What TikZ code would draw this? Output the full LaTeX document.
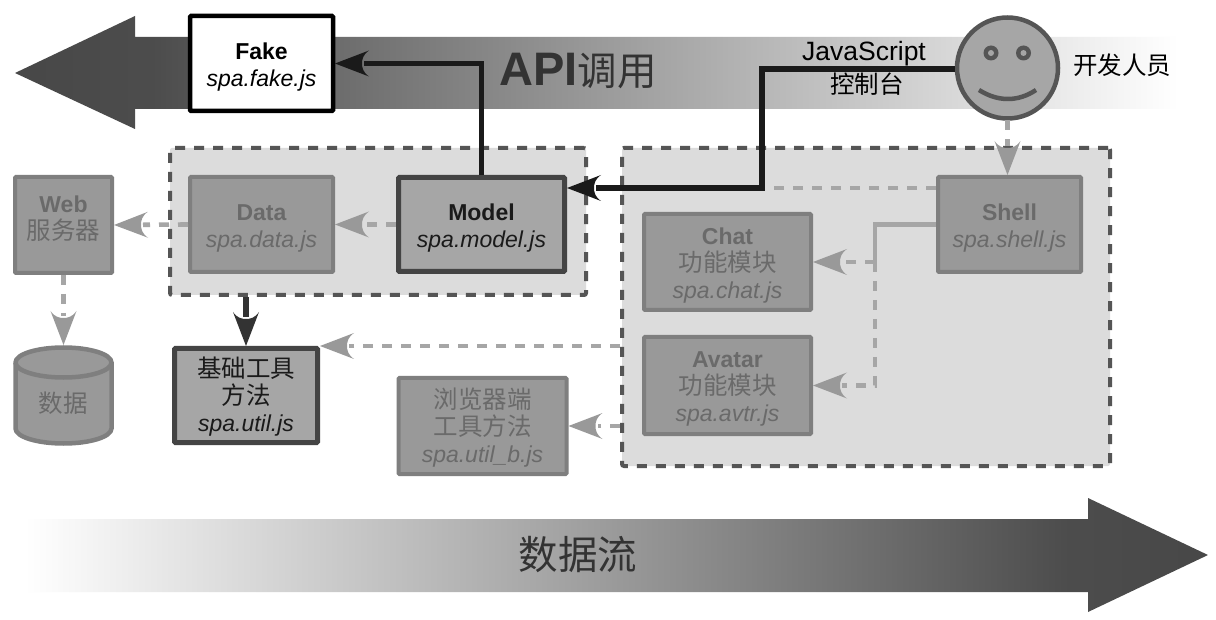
\documentclass[tikz,border=0pt]{standalone}
\usepackage{fontspec}
\setmainfont{Liberation Sans}
\newfontfamily\cjk{Noto Sans CJK SC}
\usetikzlibrary{arrows.meta,shapes.geometric}
\AtBeginDocument{\lineskiplimit=-100pt\relax}
\newcommand\cj[1]{{\cjk\fontsize{24.5}{27}\selectfont #1}}
\newcommand\topgap{\rule{0pt}{23.5pt}}
\newcommand\lowgap{\rule[-14pt]{0pt}{14pt}}
\definecolor{boxline}{HTML}{7F7F7F}
\definecolor{boxfill}{HTML}{999999}
\definecolor{boxtext}{HTML}{6A6A6A}
\definecolor{hotline}{HTML}{444444}
\definecolor{hotfill}{HTML}{A6A6A6}
\definecolor{grpline}{HTML}{555555}
\definecolor{grpfill}{HTML}{DCDCDC}
\definecolor{dashgray}{HTML}{A6A6A6}
\definecolor{tipgray}{HTML}{999999}
\definecolor{inkblack}{HTML}{1A1A1A}
\pgfdeclarehorizontalshading{apifade}{100bp}{color(0bp)=(black!72);color(25bp)=(black!72);color(31bp)=(black!70);color(75bp)=(white);color(100bp)=(white)}
\pgfdeclarehorizontalshading{flowfade}{100bp}{color(0bp)=(white);color(25bp)=(white);color(69bp)=(black!70);color(75bp)=(black!72);color(100bp)=(black!72)}
\pgfdeclarearrow{
  name=Dart,
  setup code={
    \pgfarrowssettipend{0pt}
    \pgfarrowssetlineend{-29pt}
    \pgfarrowssetvisualbackend{-27pt}
    \pgfarrowssetbackend{-34pt}
    \pgfarrowshullpoint{0pt}{0pt}
    \pgfarrowshullpoint{-34pt}{13pt}
    \pgfarrowshullpoint{-34pt}{-13pt}
  },
  drawing code={
    \pgfpathmoveto{\pgfqpoint{0pt}{0pt}}
    \pgfpathlineto{\pgfqpoint{-34pt}{13pt}}
    \pgfpathcurveto{\pgfqpoint{-28pt}{9pt}}{\pgfqpoint{-27pt}{4pt}}{\pgfqpoint{-27pt}{0pt}}
    \pgfpathcurveto{\pgfqpoint{-27pt}{-4pt}}{\pgfqpoint{-28pt}{-9pt}}{\pgfqpoint{-34pt}{-13pt}}
    \pgfpathclose
    \pgfusepathqfill
  }
}
\tikzset{
  txt/.style={font=\fontsize{23}{27}\selectfont,align=center,inner sep=0pt},
  dimbox/.style={draw=boxline,fill=boxfill,line width=4pt,rounded corners=1pt,outer sep=2pt,text=boxtext,txt},
  hotbox/.style={draw=hotline,fill=hotfill,line width=5pt,rounded corners=1pt,outer sep=2.5pt,text=inkblack,txt},
  fakebox/.style={draw=black,fill=white,line width=4.5pt,rounded corners=1pt,outer sep=2pt,text=black,txt},
  groupbox/.style={draw=grpline,fill=grpfill,line width=4pt,dash pattern=on 10pt off 9pt,rounded corners=2pt,outer sep=2pt},
  dimflow/.style={draw=dashgray,line width=4.6pt,dash pattern=on 10pt off 9pt,-{Dart[fill=tipgray]}},
  dimdash/.style={draw=dashgray,line width=4.6pt,dash pattern=on 10pt off 9pt},
  dimsolid/.style={draw=dashgray,line width=4.6pt},
  callflow/.style={draw=inkblack,line width=5.5pt,-{Dart[fill=inkblack]}},
  utilflow/.style={draw=black!80,line width=5.5pt,-{Dart[fill=black!80]}},
  dbshape/.style={draw=boxline,fill=boxfill,line width=4.5pt},
}
\begin{document}
\begin{tikzpicture}[x=1pt,y=-1pt]
\useasboundingbox (0,0) rectangle (1216,620);
\fill[white] (0,0) rectangle (1216,620);
% big arrows
\shade[shading=apifade] (15,73) -- (135,16) -- (135,37) -- (1178,37) -- (1178,109) -- (135,109) -- (135,129) -- cycle;
\shade[shading=flowfade] (1208,555) -- (1088,498) -- (1088,519) -- (25,519) -- (25,592) -- (1088,592) -- (1088,612) -- cycle;
\node[inner sep=0pt,text=black!80] (apilabel) at (578,71) {\fontsize{47}{50}\selectfont\bfseries API\cjk\mdseries\fontsize{39.5}{50}\selectfont 调用};
\node[inner sep=0pt,text=black!80] (flowlabel) at (578,555) {\cjk\fontsize{39.5}{44}\selectfont 数据流};
% groups
\node[groupbox,minimum width=416,minimum height=147] (groupL) at (378,221.5) {};
\node[groupbox,minimum width=488,minimum height=318] (groupR) at (866,307) {};
% boxes
\node[fakebox,minimum width=143,minimum height=95] (fake) at (261.5,63.5) {\topgap\textbf{Fake}\\\textit{spa.fake.js}};
\node[dimbox,minimum width=143,minimum height=95] (data) at (261.5,224.5) {\topgap\textbf{Data}\\\textit{spa.data.js}};
\node[hotbox,minimum width=166,minimum height=94] (model) at (481.5,224.5) {\topgap\textbf{Model}\\\textit{spa.model.js}};
\node[dimbox,minimum width=97,minimum height=96] (web) at (63.5,225) {\textbf{Web}\\\cj{服务器}\lowgap};
\node[dimbox,minimum width=143,minimum height=95] (shell) at (1009.5,224.5) {\topgap\textbf{Shell}\\\textit{spa.shell.js}};
\node[dimbox,minimum width=167,minimum height=96] (chat) at (727.5,262) {\topgap\textbf{Chat}\\\cj{功能模块}\\\textit{spa.chat.js}};
\node[dimbox,minimum width=167,minimum height=97] (avatar) at (727.5,385.5) {\topgap\textbf{Avatar}\\\cj{功能模块}\\\textit{spa.avtr.js}};
\node[hotbox,minimum width=143,minimum height=94] (util) at (246,395.5) {\topgap\cj{基础工具}\\\cj{方法}\\\textit{spa.util.js}};
\node[dimbox,minimum width=168,minimum height=96] (browser) at (482.5,426) {\topgap\cj{浏览器端}\\\cj{工具方法}\\\textit{spa.util\_b.js}};
% data store
\node[minimum width=100,minimum height=101,inner sep=0pt,outer sep=0pt] (db) at (63.5,395.5) {};
\draw[dbshape] (15.5,362.5) -- (15.5,428.5) arc[start angle=180,end angle=360,x radius=48pt,y radius=15pt] -- (111.5,362.5) arc[start angle=0,end angle=180,x radius=48pt,y radius=15pt] -- cycle;
\draw[dbshape,fill=none] (15.5,362.5) arc[start angle=180,end angle=360,x radius=48pt,y radius=15pt];
\node[inner sep=0pt,text=boxtext] (dblabel) at (63,403) {\cj{数据}};
% face
\node[circle,draw=grpline,fill=hotfill,line width=4.5pt,minimum size=101,inner sep=0pt,outer sep=2pt] (face) at (1007.5,68) {};
\fill[grpline] (991,53) circle[radius=7.5];
\fill[hotfill] (991,53) circle[radius=3];
\fill[grpline] (1023.5,53) circle[radius=7.5];
\fill[hotfill] (1023.5,53) circle[radius=3];
\draw[grpline,line width=4.5pt] (979,90) .. controls (998,102) and (1018,102) .. (1036,90);
\node[inner sep=0pt,text=black] (devlabel) at (1122,65) {\cj{开发人员}};
% helper coordinates
\coordinate (turnTop) at (762,69);
\coordinate (turnLow) at (762,188);
\coordinate (modelIn) at (model.east |- turnLow);
\coordinate (shellOut) at (shell.west |- turnLow);
\coordinate (shellElbow) at (875,224.5);
\coordinate (branch) at (shellElbow |- chat.east);
\coordinate (branchEnd) at (shellElbow |- avatar.east);
% connectors
\draw[dimflow] (model.west) -- (data.east);
\draw[dimflow] (data.west) -- (web.east);
\draw[dimflow] (web.south) -- (db.north);
\draw[utilflow] (util.north |- groupL.south) -- (util.north);
\draw[dimflow] (groupR.west |- util.north east) -- (util.north east);
\draw[dimflow] (groupR.west |- browser.east) -- (browser.east);
\draw[dimflow] (face.south) -- (shell.north -| face.south);
\draw[dimdash] (shellOut) -- (turnLow);
\draw[dimsolid] (shell.west) -- (shellElbow) -- (branch);
\draw[dimflow] (branch) -- (chat.east);
\draw[dimflow] (branch) -- (branchEnd) -- (avatar.east);
\draw[callflow] (model.north) -- (model.north |- fake.east) -- (fake.east);
\draw[callflow] (face.west |- turnTop) -- (turnTop) -- (turnLow) -- (modelIn);
% console label
\node[inner sep=0pt,text=black] (jslabel) at (864,54) {\fontsize{26.5}{28}\selectfont JavaScript};
\node[inner sep=0pt,text=black] (conlabel) at (867,84) {\cj{控制台}};
\end{tikzpicture}
\end{document}
